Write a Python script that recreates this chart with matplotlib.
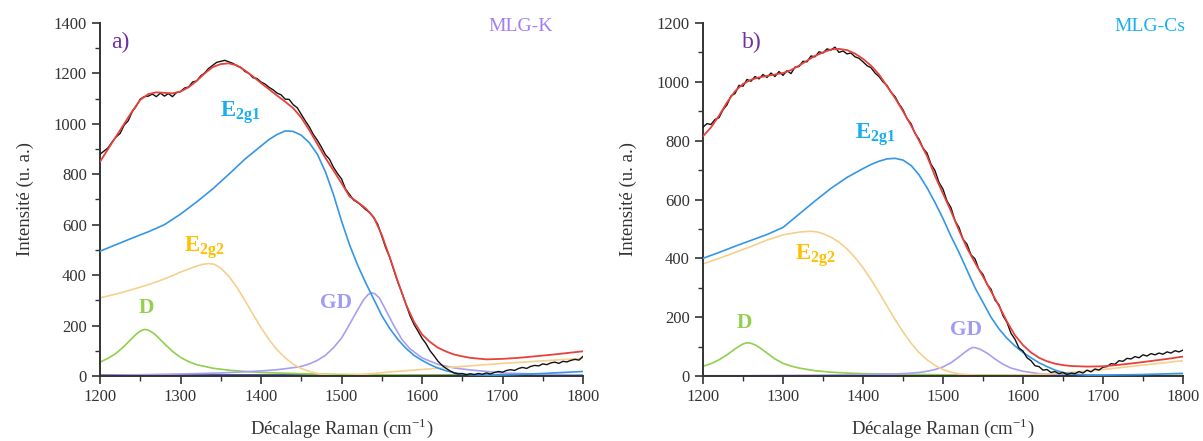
"""
Raman spectra of MLG-K and MLG-Cs with their fitted components.
"""

import numpy as np
import matplotlib.pyplot as plt
from matplotlib.ticker import MultipleLocator

#------------------------------------
# Data (Raman shift in cm-1, intensity in a.u.)
#------------------------------------

# measured spectra, 5 cm-1 step
raw_x = list(range(1200, 1801, 5))
k_raw = [880, 892, 905, 928, 948, 962, 995, 1012, 1048, 1070, 1098, 1108, 1110, 1118, 1108,
         1122, 1110, 1120, 1108, 1124, 1128, 1142, 1146, 1166, 1170, 1190, 1202, 1220, 1232,
         1244, 1248, 1252, 1246, 1240, 1230, 1224, 1208, 1200, 1183, 1180, 1166, 1158, 1145,
         1135, 1122, 1115, 1098, 1097, 1076, 1064, 1038, 1012, 988, 958, 935, 908, 878, 860,
         828, 803, 782, 742, 720, 698, 688, 675, 660, 648, 628, 602, 555, 508, 470, 420, 372,
         330, 285, 240, 205, 178, 150, 128, 100, 80, 58, 42, 30, 20, 12, 8, 10, 5, 9, 6, 10, 7,
         12, 8, 14, 18, 15, 22, 25, 22, 30, 34, 30, 38, 42, 40, 48, 45, 52, 55, 50, 58, 56, 62,
         66, 63, 78]
cs_raw = [846, 858, 855, 872, 878, 905, 922, 952, 960, 988, 985, 1008, 1002, 1018, 1010, 1025,
          1015, 1030, 1018, 1035, 1022, 1038, 1028, 1050, 1052, 1070, 1068, 1088, 1085, 1102,
          1098, 1112, 1108, 1118, 1100, 1105, 1095, 1098, 1085, 1080, 1068, 1055, 1048, 1030,
          1018, 1000, 988, 965, 950, 925, 905, 875, 858, 825, 805, 775, 758, 720, 698, 658, 635,
          595, 572, 528, 505, 465, 448, 412, 398, 362, 345, 312, 295, 258, 242, 205, 182, 145,
          125, 95, 85, 62, 52, 35, 32, 20, 22, 12, 15, 8, 12, 5, 10, 8, 15, 10, 20, 14, 24, 20,
          30, 32, 42, 40, 52, 50, 60, 58, 66, 62, 72, 68, 76, 72, 78, 74, 82, 78, 86, 82, 88]

# cumulative fit
fit_x = [1200, 1210, 1220, 1230, 1240, 1250, 1260, 1270, 1280, 1290, 1300, 1310, 1320, 1330,
         1340, 1350, 1360, 1370, 1380, 1390, 1400, 1410, 1420, 1430, 1440, 1450, 1460, 1470,
         1480, 1490, 1500, 1510, 1520, 1530, 1540, 1550, 1560, 1570, 1580, 1590, 1600, 1610,
         1620, 1630, 1640, 1650, 1660, 1680, 1700, 1720, 1740, 1760, 1780, 1800]
k_fit = [850, 900, 950, 1000, 1050, 1095, 1118, 1125, 1123, 1121, 1128, 1145, 1170, 1200,
         1225, 1237, 1240, 1232, 1212, 1188, 1162, 1137, 1112, 1088, 1062, 1025, 975, 920,
         865, 815, 765, 712, 690, 665, 630, 560, 470, 375, 285, 215, 165, 135, 112, 97, 85,
         78, 72, 66, 68, 72, 78, 84, 91, 98]
cs_fit = [815, 845, 885, 930, 968, 993, 1007, 1015, 1020, 1025, 1030, 1040, 1055, 1072, 1088,
          1100, 1110, 1112, 1108, 1096, 1078, 1055, 1025, 985, 945, 900, 852, 800, 748, 680,
          620, 560, 495, 435, 385, 338, 288, 238, 185, 138, 105, 80, 62, 50, 42, 37, 34, 32,
          33, 38, 44, 51, 58, 66]

# E2g1 component
e1_x = [1200, 1220, 1240, 1260, 1280, 1300, 1320, 1340, 1360, 1380, 1400, 1410, 1420, 1430,
        1440, 1450, 1460, 1470, 1480, 1490, 1500, 1510, 1520, 1530, 1540, 1550, 1560, 1570,
        1580, 1590, 1600, 1610, 1620, 1630, 1640, 1650, 1660, 1680, 1700, 1750, 1800]
k_e1 = [495, 521, 547, 572, 600, 642, 690, 742, 800, 860, 912, 938, 958, 972, 970, 955, 925,
        880, 810, 720, 615, 520, 440, 370, 305, 240, 188, 145, 110, 82, 62, 45, 31, 21, 13, 8,
        5, 3, 4, 10, 18]
cs_e1 = [400, 420, 441, 461, 481, 505, 550, 595, 638, 675, 705, 719, 730, 738, 740, 734, 716,
         684, 640, 590, 535, 475, 420, 360, 300, 250, 200, 160, 128, 102, 80, 62, 45, 32, 20,
         12, 7, 3, 3, 5, 9]

# E2g2 component
e2_x = [1200, 1220, 1240, 1260, 1280, 1300, 1320, 1328, 1335, 1342, 1350, 1360, 1370, 1380,
        1390, 1400, 1410, 1420, 1430, 1440, 1450, 1460, 1470, 1480, 1490, 1500, 1510, 1520,
        1540, 1560, 1600, 1650, 1700, 1750, 1800]
k_e2 = [310, 325, 343, 362, 385, 412, 436, 443, 446, 443, 428, 396, 352, 300, 245, 192, 144,
        104, 72, 47, 30, 18, 10, 5, 3, 2, 3, 5, 10, 16, 26, 38, 50, 60, 70]
cs_e2 = [381, 400, 420, 440, 462, 480, 489, 491, 492, 490, 484, 472, 455, 432, 403, 368, 328,
         284, 238, 192, 150, 112, 80, 55, 36, 22, 13, 7, 3, 2, 3, 10, 22, 37, 52]

# D component
d_x = [1200, 1210, 1220, 1230, 1240, 1245, 1250, 1255, 1260, 1265, 1270, 1280, 1290, 1300,
       1310, 1320, 1340, 1360, 1380, 1400, 1450, 1500, 1600, 1800]
k_d = [55, 70, 90, 118, 150, 166, 178, 185, 182, 173, 160, 128, 98, 74, 57, 45, 31, 23, 18,
       14, 9, 6, 4, 2]
cs_d = [33, 42, 55, 72, 92, 101, 109, 113, 111, 106, 98, 78, 58, 43, 34, 27, 18, 13, 10, 8, 6,
        4, 3, 2]

# GD component
gd_x = [1200, 1250, 1300, 1350, 1400, 1420, 1440, 1450, 1460, 1470, 1480, 1490, 1500, 1510,
        1520, 1527, 1533, 1537, 1541, 1547, 1555, 1565, 1575, 1585, 1600, 1620, 1640, 1660,
        1700, 1750, 1800]
k_gd = [3, 5, 8, 12, 20, 25, 33, 38, 48, 62, 82, 112, 150, 205, 262, 300, 323, 330, 327, 310,
        262, 200, 145, 108, 72, 46, 32, 24, 12, 7, 4]
cs_gd = [1, 1, 2, 3, 5, 6, 7, 8, 10, 12, 16, 22, 31, 45, 65, 80, 92, 97, 96, 90, 78, 58, 40,
         27, 16, 8, 5, 4, 2, 1, 1]

# baseline
base_x = [1200, 1500, 1800]
k_base = [2, 2, 2]
cs_base = [1, 1, 1]

#------------------------------------
# Styling
#------------------------------------
plt.rcParams['font.family'] = ['Liberation Serif', 'DejaVu Serif']
plt.rcParams['mathtext.fontset'] = 'custom'
plt.rcParams['mathtext.rm'] = 'Liberation Serif'
plt.rcParams['mathtext.bf'] = 'Liberation Serif:bold'
plt.rcParams['font.size'] = 12

C_RAW = '#111111'
C_FIT = '#e8403a'
C_E1 = '#3596e6'
C_E2 = '#f6d08c'
C_D = '#8fd04c'
C_GD = '#a79ff2'
C_BASE = '#2c3b8f'

fig = plt.figure(figsize=(12.03, 4.41), dpi=100)
axL = fig.add_axes([100/1203, 1-376/441, 483/1203, 353/441])
axR = fig.add_axes([703/1203, 1-376/441, 480/1203, 353/441])

panels = [
    (axL, k_raw, k_fit, k_e1, k_e2, k_d, k_gd, k_base, 1400,
     'a)', 'MLG-K', '#a47ef0',
     {'e1': (1374, 1043), 'e2': (1330, 508), 'd': (1258, 270), 'gd': (1493, 290),
      'tag': (1225, 1321), 'name': (1722, 1385)}),
    (axR, cs_raw, cs_fit, cs_e1, cs_e2, cs_d, cs_gd, cs_base, 1200,
     'b)', 'MLG-Cs', '#1ab0f0',
     {'e1': (1415, 822), 'e2': (1340, 410), 'd': (1252, 180), 'gd': (1529, 156),
      'tag': (1261, 1133), 'name': (1759, 1187)}),
]

for ax, raw, fit, e1, e2, d, gd, base, ymax, tag, name, ncol, pos in panels:
    ax.plot(base_x, base, '-', c=C_BASE, lw=1.2, zorder=1)
    ax.plot(d_x, d, '-', c=C_D, lw=1.2, zorder=2)
    ax.plot(gd_x, gd, '-', c=C_GD, lw=1.2, zorder=2)
    ax.plot(e2_x, e2, '-', c=C_E2, lw=1.2, zorder=2)
    ax.plot(e1_x, e1, '-', c=C_E1, lw=1.2, zorder=3)
    ax.plot(raw_x, raw, '-', c=C_RAW, lw=1.0, zorder=4)
    ax.plot(fit_x, fit, '-', c=C_FIT, lw=1.3, zorder=5)

    ax.set_xlim(1200, 1800)
    ax.set_ylim(0, ymax)
    ax.xaxis.set_major_locator(MultipleLocator(100))
    ax.xaxis.set_minor_locator(MultipleLocator(50))
    ax.yaxis.set_major_locator(MultipleLocator(200))
    ax.yaxis.set_minor_locator(MultipleLocator(100))
    for s in ('top', 'right'):
        ax.spines[s].set_visible(False)
    for s in ('left', 'bottom'):
        ax.spines[s].set_linewidth(1.4)
        ax.spines[s].set_color('#333333')
    ax.tick_params(which='major', direction='out', length=6, width=1.2, labelsize=12,
                   colors='#333333', labelcolor='#333333')
    ax.tick_params(which='minor', direction='out', length=3.5, width=1.0, colors='#333333')

    ax.set_xlabel('Décalage Raman (cm$^{\\mathregular{-1}}$)', fontsize=13.5, labelpad=8,
                  color='#333333')
    ax.set_ylabel('Intensité (u. a.)', fontsize=13.5, labelpad=14, color='#333333')

    ax.text(*pos['e1'], r'$\mathbf{E_{2g1}}$', color='#1aaeee', fontsize=16.5,
            ha='center', va='center')
    ax.text(*pos['e2'], r'$\mathbf{E_{2g2}}$', color='#ffc000', fontsize=16.5,
            ha='center', va='center')
    ax.text(*pos['d'], 'D', color='#92d050', fontsize=15.5, fontweight='bold',
            ha='center', va='center')
    ax.text(*pos['gd'], 'GD', color='#9e9cf6', fontsize=15.5, fontweight='bold',
            ha='center', va='center')
    ax.text(*pos['tag'], tag, color='#7030a0', fontsize=17, ha='center', va='center')
    ax.text(*pos['name'], name, color=ncol, fontsize=14, ha='center', va='center')

plt.savefig('out.png', dpi=100)
